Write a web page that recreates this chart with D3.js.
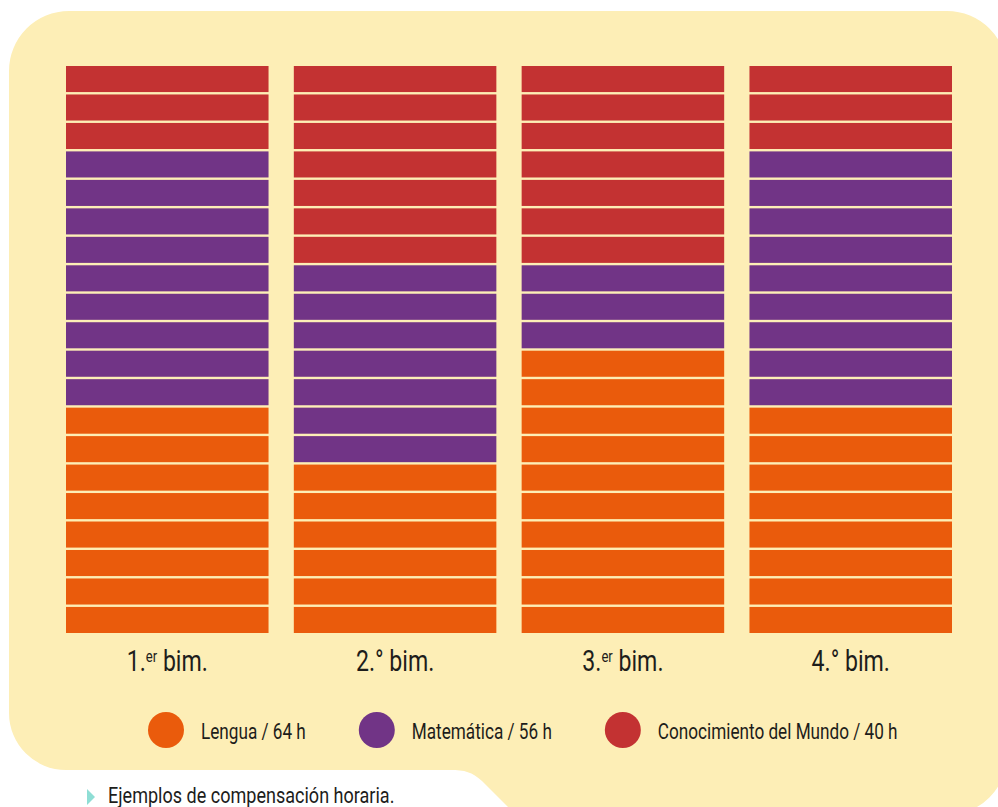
<!DOCTYPE html>
<html>
<head>
<meta charset="utf-8">
<script src="https://cdn.jsdelivr.net/npm/d3@7/dist/d3.min.js"></script>
<style>
  html, body { margin: 0; padding: 0; background: #ffffff; }
  svg { display: block; }
  text { font-family: Roboto, "Noto Sans", sans-serif; fill: #1d1d1b; }
</style>
</head>
<body>
<svg id="chart" width="998" height="807"></svg>
<script>
// ---- data ----
const bimesters = ["1.", "2.", "3.", "4."];
const bimSuffix = ["er", "°", "er", "°"];
const subjects = ["Lengua", "Matemática", "Conocimiento del Mundo"];
const subjectTotals = [64, 56, 40];
const lenguaHours = [16, 12, 20, 16];
const matematicaHours = [18, 14, 6, 18];
const conocimientoHours = [6, 14, 14, 6];
const hoursPerCell = 2;
const maxHours = 40;
const caption = "Ejemplos de compensación horaria.";

// ---- style ----
const colors = ["#EA5B0C", "#713486", "#C33232"];
const bg = "#FDEEB6";
const K = 0.77;        // horizontal condense factor, axis labels
const KL = 0.78;       // legend
const KC = 0.82;       // caption

const svg = d3.select("#chart");

// background panel
svg.append("path")
  .attr("fill", bg)
  .attr("d", [
    "M9,71", "A60,60 0 0 1 69,11", "L947,11", "A60,60 0 0 1 1007,71",
    "L1007,755", "A60,60 0 0 1 947,815", "L516,815", "L482,781",
    "C472,772 465,770 450,770", "L66,770", "A57,57 0 0 1 9,713", "Z"
  ].join(" "));

const x = d3.scaleBand().domain(d3.range(bimesters.length)).range([66, 952]).paddingInner(0.111);
const y = d3.scaleLinear().domain([0, maxHours]).range([635.4, 66]);
const gap = 2.4;

const series = [lenguaHours, matematicaHours, conocimientoHours];
const cells = [];
bimesters.forEach((b, bi) => {
  let k = 0;
  series.forEach((s, si) => {
    const n = s[bi] / hoursPerCell;
    for (let i = 0; i < n; i++) { cells.push({ bi, si, k }); k++; }
  });
});

svg.append("g").selectAll("rect").data(cells).join("rect")
  .attr("x", d => x(d.bi))
  .attr("width", x.bandwidth())
  .attr("y", d => y((d.k + 1) * hoursPerCell))
  .attr("height", d => y(d.k * hoursPerCell) - y((d.k + 1) * hoursPerCell) - gap)
  .attr("fill", d => colors[d.si]);

// category labels
const labels = svg.append("g").selectAll("text").data(bimesters).join("text")
  .attr("transform", (d, i) => `translate(${x(i) + x.bandwidth() / 2},671) scale(${K},1)`)
  .attr("text-anchor", "middle")
  .style("font-size", "30px");
labels.append("tspan").text(d => d);
labels.append("tspan")
  .style("font-size", (d, i) => bimSuffix[i] === "er" ? "17px" : "30px")
  .attr("baseline-shift", (d, i) => bimSuffix[i] === "er" ? "9px" : "0")
  .text((d, i) => bimSuffix[i]);
labels.append("tspan").text(" bim.");

// legend (flow layout)
const leg = svg.append("g");
let lx = 148;
subjects.forEach((s, i) => {
  const g = leg.append("g");
  g.append("circle").attr("cx", lx + 18).attr("cy", 730).attr("r", 18).attr("fill", colors[i]);
  const t = g.append("text")
    .attr("transform", `translate(${lx + 53},739) scale(${KL},1)`)
    .style("font-size", "22px")
    .text(`${s} / ${subjectTotals[i]} h`);
  const w = t.node().getComputedTextLength() * KL;
  lx = lx + 53 + w + 53;
});

// caption
svg.append("path").attr("d", "M87,789 L95,797 L87,805 Z").attr("fill", "#8FDED5");
svg.append("text")
  .attr("transform", `translate(108,803) scale(${KC},1)`)
  .style("font-size", "22px")
  .text(caption);
</script>
</body>
</html>
